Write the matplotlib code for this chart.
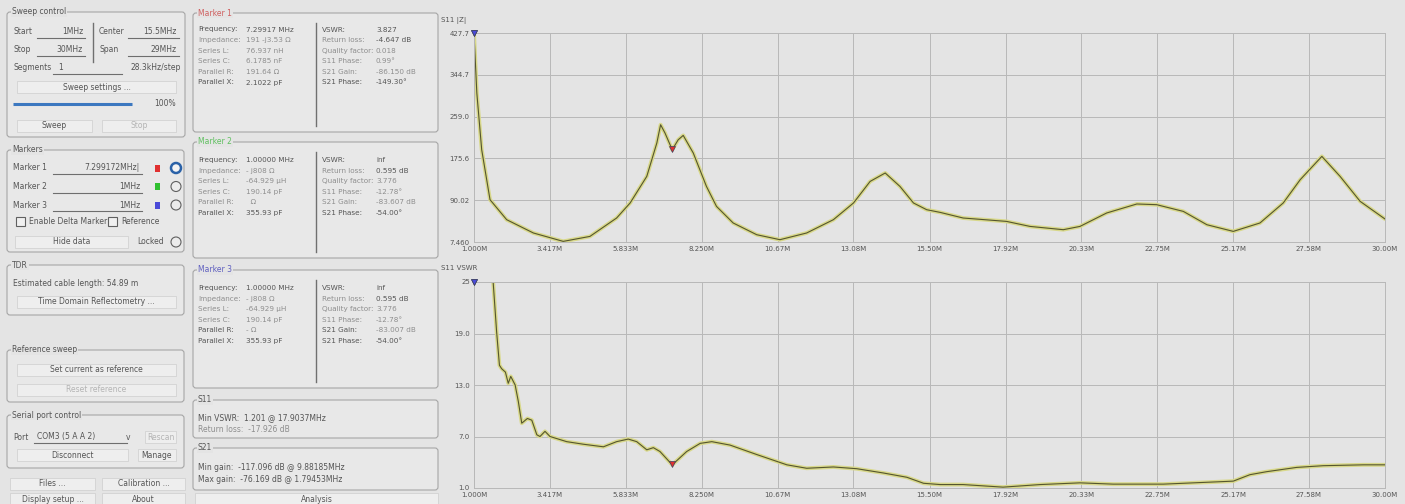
import matplotlib
matplotlib.use("Agg")
import matplotlib.pyplot as plt
from matplotlib.patches import FancyBboxPatch, Rectangle, Circle
import numpy as np

W, H = 1405, 504
BG = '#e4e4e4'
PANEL = '#e8e8e8'
TXT = '#555555'
LIGHT = '#8e8e8e'
GREY = '#b4b4b4'

# S11 |Z| trace (MHz, ohm)
z_freq = [1.0, 1.09, 1.245, 1.51, 2.04, 2.89, 3.84, 4.69, 5.54, 5.97, 6.50, 6.82,
          6.94, 7.08, 7.31, 7.50, 7.66, 7.98, 8.40, 8.72, 9.25, 10.00, 10.74,
          11.59, 12.44, 13.08, 13.61, 14.09, 14.56, 14.99, 15.41, 15.84, 16.57,
          17.95, 18.70, 19.76, 20.29, 21.14, 22.10, 22.73, 23.58, 24.33, 25.17,
          26.02, 26.76, 27.30, 27.99, 28.57, 29.21, 30.0]
z_mag = [427.0, 307.0, 193.0, 92.5, 52.3, 25.6, 8.7, 18.7, 55.7, 85.9, 139.4, 206.5,
         243.3, 226.6, 193.0, 213.0, 221.8, 186.4, 119.2, 79.0, 45.7, 22.1, 12.1,
         25.6, 52.3, 85.9, 129.3, 146.2, 119.2, 85.9, 72.4, 67.0, 55.7,
         48.9, 38.8, 32.2, 38.8, 65.8, 83.9, 82.5, 69.0, 42.2, 28.8,
         45.7, 85.9, 132.7, 179.6, 139.4, 89.1, 53.7]

# S11 VSWR trace (MHz, ratio)
vswr_freq = [1.0, 1.6, 1.72, 1.81, 1.88, 2.0, 2.09, 2.17, 2.31, 2.41, 2.52, 2.70,
             2.84, 3.0, 3.10, 3.26, 3.42, 3.95, 4.48, 5.12, 5.54, 5.91, 6.18,
             6.50, 6.71, 6.92, 7.31, 7.77, 8.20, 8.57, 9.15, 10.0, 10.96, 11.59,
             12.44, 13.18, 14.03, 14.78, 15.31, 15.84, 16.57, 17.84, 19.02, 20.29,
             21.35, 22.94, 24.86, 25.17, 25.70, 26.23, 27.19, 28.04, 29.32, 30.0]
vswr_val = [40.0, 25.5, 19.2, 15.3, 14.9, 14.5, 13.2, 14.0, 13.0, 11.1, 8.55, 9.1,
            8.9, 7.2, 7.0, 7.6, 7.0, 6.4, 6.1, 5.8, 6.4, 6.7, 6.4,
            5.45, 5.7, 5.25, 3.7, 5.25, 6.2, 6.4, 6.0, 4.9, 3.7, 3.3,
            3.45, 3.25, 2.75, 2.25, 1.55, 1.4, 1.4, 1.1, 1.4, 1.6,
            1.45, 1.45, 1.75, 1.8, 2.55, 2.9, 3.4, 3.6, 3.7, 3.7]

x_ticks = [1.0, 3.417, 5.833, 8.25, 10.67, 13.08, 15.5, 17.92, 20.33, 22.75, 25.17, 27.58, 30.0]
x_labels = ['1.000M', '3.417M', '5.833M', '8.250M', '10.67M', '13.08M', '15.50M',
            '17.92M', '20.33M', '22.75M', '25.17M', '27.58M', '30.00M']
z_ticks = [7.46, 91.51, 175.56, 259.6, 343.65, 427.7]
z_labels = ['7.460', '90.02', '175.6', '259.0', '344.7', '427.7']
vswr_ticks = [1, 7, 13, 19, 25]
vswr_labels = ['1.0', '7.0', '13.0', '19.0', '25']

marker_freq = [7.299172, 1.0, 1.0]
marker_col = ['#e03030', '#30c030', '#4a4ad8']

fig = plt.figure(figsize=(W / 100, H / 100), dpi=100, facecolor=BG)
ui = fig.add_axes([0, 0, 1, 1])
ui.set_xlim(0, W)
ui.set_ylim(H, 0)
ui.axis('off')
ui.set_facecolor(BG)


def txt(x, y, s, ha='left', c=TXT, fs=5.5):
    ui.text(x, y, s, ha=ha, va='center', fontsize=fs, color=c)


def group(x0, y0, x1, y1, title, tc=TXT):
    ui.add_patch(FancyBboxPatch((x0, y0), x1 - x0, y1 - y0,
                                boxstyle='round,pad=0,rounding_size=3',
                                fc=PANEL, ec='#a6a6a6', lw=0.8))
    ui.text(x0 + 5, y0, title, ha='left', va='center', fontsize=5.5, color=tc,
            bbox=dict(fc=BG, ec='none', pad=0.6))


def button(x0, x1, y, label, on=True):
    ui.add_patch(Rectangle((x0, y - 6), x1 - x0, 12, fc='#eeeeee', ec='#d2d2d2', lw=0.6))
    txt((x0 + x1) / 2, y, label, ha='center', c=TXT if on else GREY)


def field(x0, x1, y, s):
    ui.plot([x0, x1], [y + 6, y + 6], color='#6e6e6e', lw=0.8)
    txt(x1 - 2, y, s, ha='right')


def radio(x, y, on=False):
    if on:
        ui.add_patch(Circle((x, y), 5, fc='#f4f4f4', ec='#2b62a8', lw=1.8))
    else:
        ui.add_patch(Circle((x, y), 5, fc='#ececec', ec='#606060', lw=0.8))


# ---- left column ----
group(7, 12, 185, 137, 'Sweep control')
txt(13, 32, 'Start'); field(37, 85, 32, '1MHz')
txt(13, 50, 'Stop'); field(37, 85, 50, '30MHz')
ui.plot([93, 93], [23, 62], color='#707070', lw=1.0)
txt(99, 32, 'Center'); field(128, 179, 32, '15.5MHz')
txt(99, 50, 'Span'); field(128, 179, 50, '29MHz')
txt(13, 68, 'Segments'); field(53, 122, 68, '')
txt(58, 68, '1')
txt(181, 68, '28.3kHz/step', ha='right')
button(17, 176, 87, 'Sweep settings ...')
ui.plot([13, 132], [104, 104], color='#3c78c0', lw=2.2, solid_capstyle='butt')
txt(176, 104, '100%', ha='right')
button(17, 92, 126, 'Sweep')
button(102, 176, 126, 'Stop', on=False)

group(7, 150, 184, 252, 'Markers')
for i, (lab, val) in enumerate([('Marker 1', '7.299172MHz|'), ('Marker 2', '1MHz'), ('Marker 3', '1MHz')]):
    y = 168 + 18.5 * i
    txt(13, y, lab)
    field(53, 142, y, val)
    ui.add_patch(Rectangle((155, y - 3.5), 5, 7, fc=marker_col[i], ec='none'))
    radio(176, y, on=(i == 0))
ui.add_patch(Rectangle((16, 217), 9, 9, fc='#f0f0f0', ec='#606060', lw=0.8))
txt(29, 222, 'Enable Delta Marker')
ui.add_patch(Rectangle((108, 217), 9, 9, fc='#f0f0f0', ec='#606060', lw=0.8))
txt(121, 222, 'Reference')
button(15, 128, 242, 'Hide data')
txt(164, 242, 'Locked', ha='right')
radio(176, 242)

group(7, 265, 184, 315, 'TDR')
txt(13, 283, 'Estimated cable length: 54.89 m')
button(17, 176, 302, 'Time Domain Reflectometry ...')

group(7, 350, 184, 402, 'Reference sweep')
button(17, 176, 370, 'Set current as reference')
button(17, 176, 390, 'Reset reference', on=False)

group(7, 415, 184, 468, 'Serial port control')
txt(13, 437, 'Port')
field(34, 127, 437, '')
txt(37, 437, 'COM3 (5 A A 2)')
txt(128, 437, 'v', ha='center')
button(145, 176, 437, 'Rescan', on=False)
button(17, 128, 455, 'Disconnect')
button(138, 176, 455, 'Manage')
button(10, 95, 484, 'Files ...')
button(102, 185, 484, 'Calibration ...')
button(10, 95, 499, 'Display setup ...')
button(102, 185, 499, 'About')

# ---- marker readouts ----
left_lab = ['Frequency:', 'Impedance:', 'Series L:', 'Series C:', 'Parallel R:', 'Parallel X:']
right_lab = ['VSWR:', 'Return loss:', 'Quality factor:', 'S11 Phase:', 'S21 Gain:', 'S21 Phase:']
lab_col = [TXT, LIGHT, LIGHT, LIGHT, LIGHT, TXT]
m_left = [['7.29917 MHz', '191 -j3.53 Ω', '76.937 nH', '6.1785 nF', '191.64 Ω', '2.1022 pF'],
          ['1.00000 MHz', '- j808 Ω', '-64.929 µH', '190.14 pF', '  Ω', '355.93 pF'],
          ['1.00000 MHz', '- j808 Ω', '-64.929 µH', '190.14 pF', '- Ω', '355.93 pF']]
m_right = [['3.827', '-4.647 dB', '0.018', '0.99°', '-86.150 dB', '-149.30°'],
           ['inf', '0.595 dB', '3.776', '-12.78°', '-83.607 dB', '-54.00°'],
           ['inf', '0.595 dB', '3.776', '-12.78°', '-83.007 dB', '-54.00°']]
m_box = [(13, 132, 29.5), (142, 258, 160), (270, 388, 288)]
m_title = ['#d06060', '#60c060', '#6060c0']
for k in range(3):
    y0, y1, r0 = m_box[k]
    group(193, y0, 438, y1, 'Marker %d' % (k + 1), tc=m_title[k])
    ui.plot([316, 316], [y0 + 10, y1 - 6], color='#707070', lw=1.0)
    for i in range(6):
        y = r0 + 10.6 * i
        c = lab_col[i]
        if k == 2 and i == 4:
            c = TXT
        txt(198, y, left_lab[i], c=c, fs=5.2)
        txt(246, y, m_left[k][i], c=TXT if i in (0, 5) else LIGHT, fs=5.2)
        txt(322, y, right_lab[i], c=TXT if i in (0, 5) or (k == 2 and i == 4) else LIGHT, fs=5.2)
        txt(376, y, m_right[k][i], c=TXT if i in (0, 1, 5) else LIGHT, fs=5.2)

group(193, 400, 438, 438, 'S11')
txt(198, 418, 'Min VSWR:  1.201 @ 17.9037MHz')
txt(198, 429, 'Return loss:  -17.926 dB', c=LIGHT)
group(193, 448, 438, 490, 'S21')
txt(198, 468, 'Min gain:  -117.096 dB @ 9.88185MHz')
txt(198, 479, 'Max gain:  -76.169 dB @ 1.79453MHz')
button(195, 438, 499, 'Analysis')

txt(441, 20, 'S11 |Z|', fs=5)
txt(441, 268, 'S11 VSWR', fs=5)


# ---- charts ----
def chart_axes(x0, y0, x1, y1):
    ax = fig.add_axes([x0 / W, 1 - y1 / H, (x1 - x0) / W, (y1 - y0) / H])
    ax.set_facecolor(BG)
    for s in ax.spines.values():
        s.set_color('#b8b8b8')
        s.set_linewidth(0.7)
    ax.grid(True, color='#b8b8b8', lw=0.7)
    ax.tick_params(length=0, labelsize=5, colors=TXT, pad=3)
    ax.set_xlim(1, 30)
    ax.set_xticks(x_ticks)
    ax.set_xticklabels(x_labels)
    return ax


def trace(ax, f, v, top):
    ax.plot(f, v, color='#d8d88a', lw=2.8, solid_capstyle='round', solid_joinstyle='round')
    ax.plot(f, v, color='#55552e', lw=0.8, solid_joinstyle='round')
    for fm, cm in zip(marker_freq, marker_col):
        vm = min(np.interp(fm, f, v), top)
        ax.plot([fm], [vm], marker='v', ms=5, color=cm, mec='#404060', mew=0.5,
                clip_on=False, zorder=5)


ax1 = chart_axes(474, 33, 1385, 242)
ax1.set_ylim(7.46, 427.7)
ax1.set_yticks(z_ticks)
ax1.set_yticklabels(z_labels)
trace(ax1, z_freq, z_mag, 427.7)

ax2 = chart_axes(474, 282, 1385, 488)
ax2.set_ylim(1, 25)
ax2.set_yticks(vswr_ticks)
ax2.set_yticklabels(vswr_labels)
trace(ax2, vswr_freq, vswr_val, 25)

fig.savefig('out.png', dpi=100, facecolor=BG)
